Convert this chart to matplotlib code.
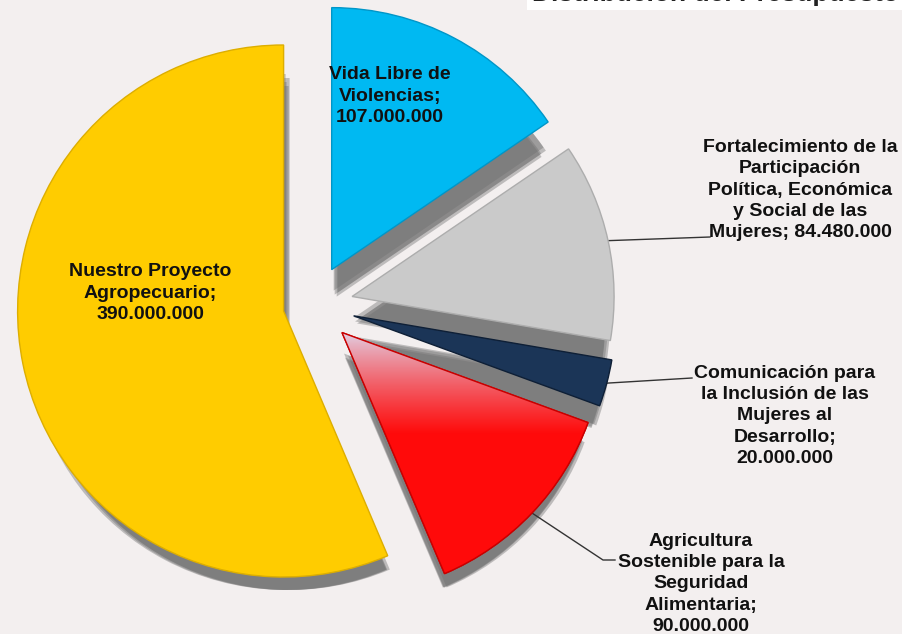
import numpy as np
import matplotlib
matplotlib.use('Agg')
import matplotlib.pyplot as plt
from matplotlib.patches import Rectangle, Wedge

# ── Data ──────────────────────────────────────────────────────────────────────
title      = 'Distribución del Presupuesto'
categories = ['Vida Libre de\nViolencias',
              'Fortalecimiento de la\nParticipación\nPolítica, Económica\ny Social de las\nMujeres',
              'Comunicación para\nla Inclusión de las\nMujeres al\nDesarrollo',
              'Agricultura\nSostenible para la\nSeguridad\nAlimentaria',
              'Nuestro Proyecto\nAgropecuario']
values     = [107000000, 84480000, 20000000, 90000000, 390000000]
value_sep  = ['\n', ' ', '\n', '\n', '\n']

# ── Style / layout (pixel units, y up) ────────────────────────────────────────
W, H       = 903, 634
BG         = '#F3EFEF'
colors     = ['#00B9F2', '#CACACA', '#1B3557', '#FF0A0A', '#FFCC00']
edges      = ['#0096C8', '#ADADAD', '#0E1F36', '#C80000', '#DDAE00']
explode    = [40, 40, 42, 40, 30]
radius     = 262
radius_big = 266          # yellow slice looks slightly larger
center     = (313, 329)
shadow_off = (4, -24)
shadow_shrink = 11
label_pos  = [(390, 538), (800, 444), (785, 218), (701, 50), (150, 341)]
leader_end = [None, [(710, 397)], [(692, 256)], [(603, 74), (615, 74)], None]

fig = plt.figure(figsize=(W / 100, H / 100), dpi=100)
fig.patch.set_facecolor(BG)
ax = fig.add_axes([0, 0, 1, 1])
ax.set_facecolor(BG)

# soft drop shadows: a few translucent, slightly smaller pies shifted down
for k, jit in enumerate([(-2, 3), (2, 1), (-1, -1), (1, -3)]):
    dr = 3 - 2 * k
    sh, _ = ax.pie(values, explode=explode, startangle=90, counterclock=False,
                   radius=radius - shadow_shrink + dr,
                   center=(center[0] + shadow_off[0] + jit[0], center[1] + shadow_off[1] + jit[1]),
                   colors=['#6e6e6e'] * len(values),
                   wedgeprops=dict(alpha=0.4, linewidth=0))
    sh[4].set_radius(radius_big - shadow_shrink + dr)

wedges, _ = ax.pie(values, explode=explode, startangle=90, counterclock=False,
                   radius=radius, center=center, colors=colors,
                   wedgeprops=dict(linewidth=1.0))
wedges[4].set_radius(radius_big)
for w, ec in zip(wedges, edges):
    w.set_edgecolor(ec)
    w.set_zorder(3)

# light-to-red gradient on the agriculture slice
red = wedges[3]
ext = red.get_path().get_extents()
t = np.linspace(0, 1, 200)[:, None]         # 0 = top
mix = np.clip(t / 0.42, 0, 1) ** 0.8
top_c = np.array([0.88, 0.84, 0.92])
red_c = np.array([1.0, 0.04, 0.04])
grad = (1 - mix) * top_c + mix * red_c
img = ax.imshow(grad[:, None, :], extent=(ext.x0, ext.x1, ext.y0, ext.y1),
                aspect='auto', origin='upper', zorder=3.5)
img.set_clip_path(red)
ax.add_patch(Wedge(red.center, red.r, red.theta1, red.theta2, facecolor='none',
                   edgecolor=edges[3], linewidth=1.0, zorder=3.6))

# labels and leader lines
for i, (cat, val) in enumerate(zip(categories, values)):
    num = f"{val:,}".replace(',', '.')
    ax.text(label_pos[i][0], label_pos[i][1], f"{cat};{value_sep[i]}{num}",
            ha='center', va='center', family='Liberation Sans', fontweight='bold',
            fontsize=14, linespacing=1.32, color='#111111', zorder=5)
    if leader_end[i] is not None:
        w = wedges[i]
        tm = np.deg2rad((w.theta1 + w.theta2) / 2)
        pts = [(w.center[0] + w.r * np.cos(tm), w.center[1] + w.r * np.sin(tm))] + leader_end[i]
        xs, ys = zip(*pts)
        ax.plot(xs, ys, color='#333333', linewidth=1, zorder=2)

# title box cut off at the top edge
ax.add_patch(Rectangle((527, H - 10), W - 527, 10, facecolor='white', edgecolor='none', zorder=6))
ax.text(532, H - 0.5, title, ha='left', va='baseline', family='Liberation Sans',
        fontweight='bold', fontsize=19, color='#222222', zorder=7)

ax.set_xlim(0, W)
ax.set_ylim(0, H)
ax.axis('off')

plt.savefig('out.png', dpi=100, facecolor=BG)
plt.close()
